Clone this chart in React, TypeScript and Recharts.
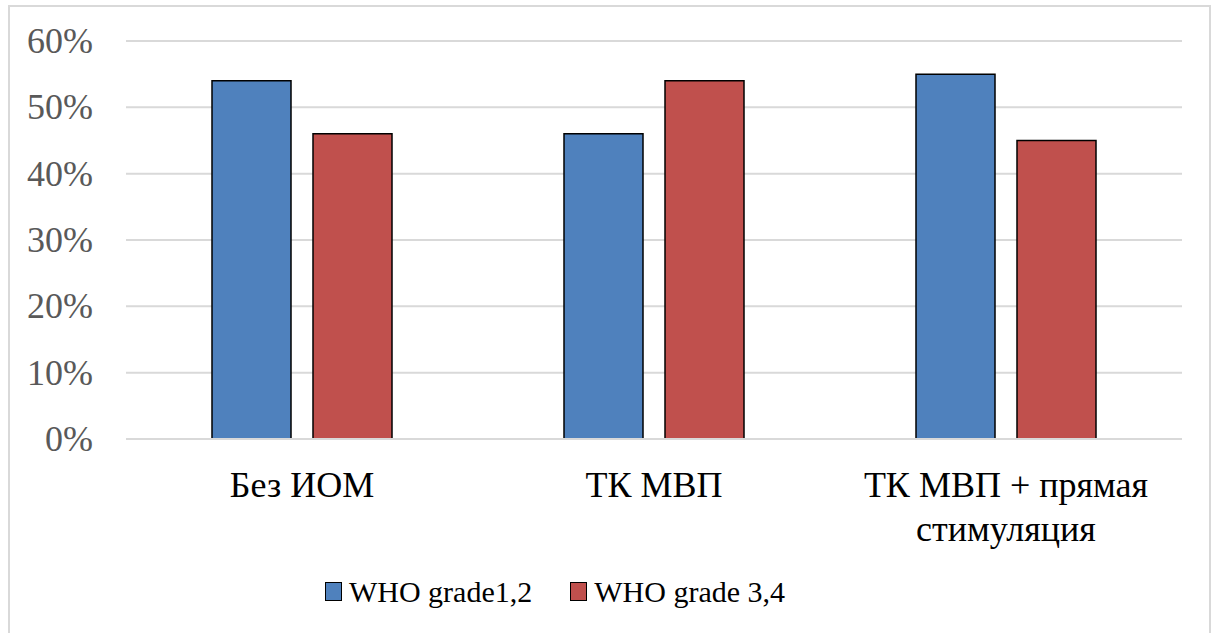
import React from 'react';
import { BarChart, Bar, XAxis, YAxis, CartesianGrid, Legend } from 'recharts';

// Values (percent)
const categories = ['Без ИОМ', 'ТК МВП', 'ТК МВП + прямая стимуляция'];
const grade12 = [54, 46, 55];
const grade34 = [46, 54, 45];
const yTicks = [0, 10, 20, 30, 40, 50, 60];

const seriesNames = ['WHO grade1,2', 'WHO grade 3,4'];
const COLORS = ['#4f81bd', '#c0504d'];
const FONT = 'Liberation Serif';

const data = categories.map((name, i) => ({
  name,
  g12: grade12[i],
  g34: grade34[i],
}));

// greedy wrap by character count
const wrap = (s: string, max: number) => {
  const lines: string[] = [];
  let cur = '';
  s.split(' ').forEach(w => {
    if (cur && (cur + ' ' + w).length > max) {
      lines.push(cur);
      cur = w;
    } else {
      cur = cur ? cur + ' ' + w : w;
    }
  });
  if (cur) lines.push(cur);
  return lines;
};

const CategoryTick = (props: any) => {
  const { x, y, payload } = props;
  const lines = wrap(payload.value, 16);
  return (
    <text x={x} y={y + 58} textAnchor="middle" fill="#000" fontFamily={FONT} fontSize={36}>
      {lines.map((l, i) => (
        <tspan key={i} x={x} dy={i === 0 ? 0 : 44}>{l}</tspan>
      ))}
    </text>
  );
};

const PercentTick = (props: any) => {
  const { y, payload } = props;
  return (
    <text x={93} y={y + 12} textAnchor="end" fill="#595959" fontFamily={FONT} fontSize={36}>
      {`${payload.value}%`}
    </text>
  );
};

const LegendContent = () => (
  <div style={{ height: 70, display: 'flex', justifyContent: 'center', alignItems: 'center', gap: 38, fontFamily: FONT, fontSize: 30, color: '#000', paddingRight: 72, paddingTop: 3, boxSizing: 'border-box' }}>
    {seriesNames.map((n, i) => (
      <div key={n} style={{ display: 'flex', alignItems: 'center' }}>
        <span style={{ display: 'inline-block', width: 15, height: 17, background: COLORS[i], border: '1.5px solid #000', marginRight: 7 }} />
        <span>{n}</span>
      </div>
    ))}
  </div>
);

const App: React.FC = () => {
  return (
    <div style={{ position: 'absolute', left: 0, top: 0, width: 1211, height: 633, overflow: 'hidden', background: '#fff' }}>
      <div style={{ position: 'absolute', left: 8, top: 5, width: 1203, height: 700, border: '2px solid #d9d9d9', boxSizing: 'border-box' }} />
      <div style={{ position: 'absolute', left: 0, top: 0 }}>
        <BarChart
          width={1211}
          height={633}
          data={data}
          margin={{ top: 41, right: 29, left: 0, bottom: 8 }}
          barSize={79}
          barGap={22}
        >
          <CartesianGrid vertical={false} stroke="#d9d9d9" strokeWidth={2} />
          <XAxis
            dataKey="name"
            height={116}
            axisLine={{ stroke: '#d9d9d9', strokeWidth: 2 }}
            tickLine={false}
            tickSize={0}
            tickMargin={0}
            tick={<CategoryTick />}
            interval={0}
          />
          <YAxis
            width={126}
            domain={[0, 60]}
            ticks={yTicks}
            axisLine={false}
            tickLine={false}
            tickSize={0}
            tick={<PercentTick />}
          />
          <Legend verticalAlign="bottom" height={70} content={<LegendContent />} />
          <Bar dataKey="g12" name={seriesNames[0]} fill={COLORS[0]} stroke="#000" strokeWidth={1.5} isAnimationActive={false} />
          <Bar dataKey="g34" name={seriesNames[1]} fill={COLORS[1]} stroke="#000" strokeWidth={1.5} isAnimationActive={false} />
        </BarChart>
      </div>
    </div>
  );
};

export default App;
